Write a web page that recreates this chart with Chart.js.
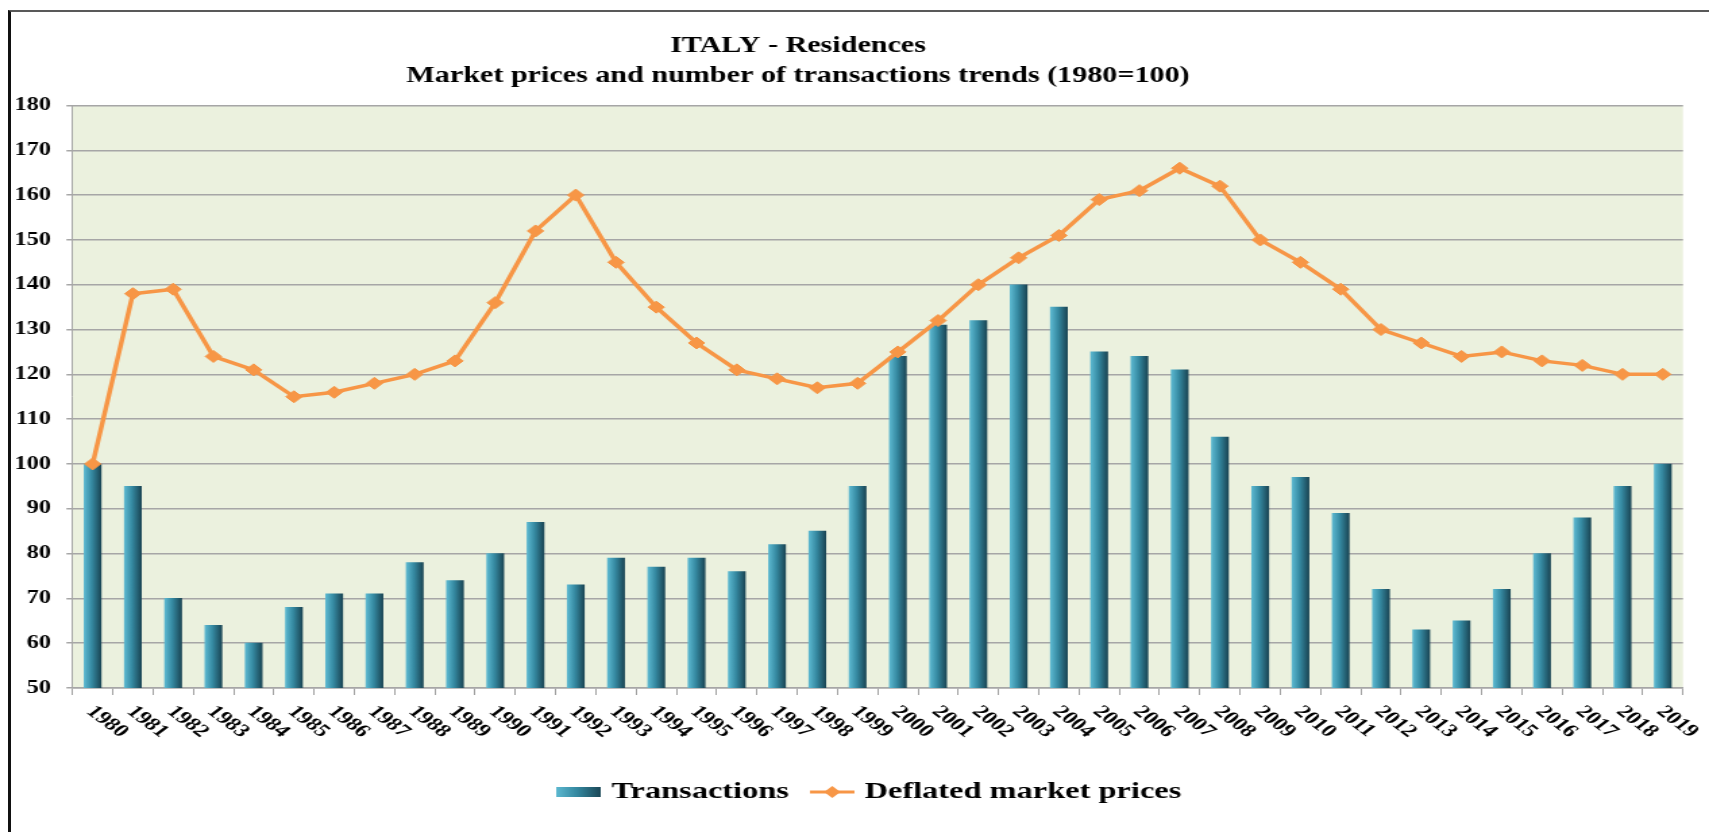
<!DOCTYPE html>
<html>
<head>
<meta charset="utf-8">
<title>ITALY - Residences</title>
<script src="https://cdn.jsdelivr.net/npm/chart.js@4.4.1/dist/chart.umd.min.js"></script>
<style>
  html, body { margin: 0; padding: 0; background: #fff; overflow: hidden; }
  #frame { position: absolute; left: 8px; top: 10px; width: 1720px; height: 900px;
           border-left: 3px solid #111; border-top: 2px solid #595959; pointer-events: none; }
  /* the original picture is stretched sideways, so the canvas is drawn narrow and widened */
  #wrap { position: absolute; left: 0; top: 0; width: 1266px; height: 832px;
          transform: scaleX(1.34992); transform-origin: 0 0; }
</style>
</head>
<body>
<div id="wrap"><canvas id="chart" width="1266" height="832"></canvas></div>
<div id="frame"></div>
<script>
const years = ['1980','1981','1982','1983','1984','1985','1986','1987','1988','1989',
               '1990','1991','1992','1993','1994','1995','1996','1997','1998','1999',
               '2000','2001','2002','2003','2004','2005','2006','2007','2008','2009',
               '2010','2011','2012','2013','2014','2015','2016','2017','2018','2019'];
const transactions = [100, 95, 70, 64, 60, 68, 71, 71, 78, 74,
                      80, 87, 73, 79, 77, 79, 76, 82, 85, 95,
                      124, 131, 132, 140, 135, 125, 124, 121, 106, 95,
                      97, 89, 72, 63, 65, 72, 80, 88, 95, 100];
const marketPrices = [100, 138, 139, 124, 121, 115, 116, 118, 120, 123,
                      136, 152, 160, 145, 135, 127, 121, 119, 117, 118,
                      125, 132, 140, 146, 151, 159, 161, 166, 162, 150,
                      145, 139, 130, 127, 124, 125, 123, 122, 120, 120];
const yTicks = [50, 60, 70, 80, 90, 100, 110, 120, 130, 140, 150, 160, 170, 180];
const titleLines = ['ITALY - Residences', 'Market prices and number of transactions trends (1980=100)'];
const seriesNames = ['Transactions', 'Deflated market prices'];

const STRETCH = 1709 / 1266;
const SERIF = '"Liberation Serif", "Times New Roman", serif';
const ORANGE = '#f79646';
const BAR_W = 12.5;
const TITLE_CX = 798 / STRETCH;
const LEGEND_CX = 872 / STRETCH;

Chart.defaults.font.family = SERIF;
Chart.defaults.font.weight = 'bold';
Chart.defaults.color = '#000';

function barGradient(c, x0, x1) {
    const g = c.createLinearGradient(x0, 0, x1, 0);
    g.addColorStop(0, '#5cb8d0');
    g.addColorStop(0.45, '#3589a1');
    g.addColorStop(1, '#1a4655');
    return g;
}

// legend swatches
const barSwatch = document.createElement('canvas');
barSwatch.width = 33; barSwatch.height = 10;
(() => {
    const c = barSwatch.getContext('2d');
    c.fillStyle = barGradient(c, 0, 33);
    c.fillRect(0, 0, 33, 10);
})();
const lineSwatch = document.createElement('canvas');
lineSwatch.width = 33; lineSwatch.height = 14;
(() => {
    const c = lineSwatch.getContext('2d');
    c.strokeStyle = ORANGE; c.lineWidth = 3;
    c.beginPath(); c.moveTo(0, 7); c.lineTo(33, 7); c.stroke();
    c.fillStyle = ORANGE;
    c.beginPath(); c.moveTo(16.5 - 6, 7); c.lineTo(16.5, 1); c.lineTo(16.5 + 6, 7); c.lineTo(16.5, 13); c.closePath(); c.fill();
})();

const plotBackground = {
    id: 'plotBackground',
    beforeDraw(chart) {
        const { ctx, chartArea: a } = chart;
        ctx.save();
        ctx.fillStyle = '#ebf1de';
        ctx.fillRect(a.left, a.top, a.right - a.left, a.bottom - a.top);
        ctx.restore();
    }
};

// title sits left of centre and the legend right of it in the original
const shiftBoxes = {
    id: 'shiftBoxes',
    afterLayout(chart) {
        const t = chart.titleBlock;
        if (t) { const d = TITLE_CX - (t.left + t.right) / 2; t.left += d; t.right += d; }
        const l = chart.legend;
        if (l) { const d = LEGEND_CX - (l.left + l.right) / 2; l.left += d; l.right += d; }
    }
};

// year labels run down to the right, which the axis itself cannot do
const slantedYears = {
    id: 'slantedYears',
    afterDraw(chart) {
        const { ctx } = chart;
        const xs = chart.scales.x;
        ctx.save();
        ctx.font = `bold 18px ${SERIF}`;
        ctx.fillStyle = '#000';
        ctx.textAlign = 'left';
        ctx.textBaseline = 'middle';
        years.forEach((y, i) => {
            ctx.save();
            ctx.translate(xs.getPixelForTick(i) - 2, xs.top + 21);
            ctx.rotate(Math.PI / 4);
            ctx.fillText(y, 0, 0);
            ctx.restore();
        });
        ctx.restore();
    }
};

new Chart(document.getElementById('chart'), {
    data: {
        labels: years,
        datasets: [{
            type: 'line',
            label: seriesNames[1],
            data: marketPrices,
            order: 0,
            borderColor: ORANGE,
            borderWidth: 3.5,
            pointStyle: 'rectRot',
            pointRadius: 6,
            pointBorderWidth: 1,
            pointBackgroundColor: ORANGE,
            pointBorderColor: ORANGE,
            tension: 0
        }, {
            type: 'bar',
            label: seriesNames[0],
            data: transactions,
            order: 1,
            barThickness: BAR_W,
            backgroundColor: (context) => {
                const xs = context.chart.scales.x;
                if (!xs || context.dataIndex === undefined) return '#3589a1';
                const cx = xs.getPixelForValue(context.dataIndex);
                if (!isFinite(cx)) return '#3589a1';
                return barGradient(context.chart.ctx, cx - BAR_W / 2, cx + BAR_W / 2);
            }
        }]
    },
    options: {
        responsive: false,
        devicePixelRatio: 1,
        animation: false,
        layout: { padding: { left: 0, right: 19.3, top: 0, bottom: 18 } },
        plugins: {
            title: {
                display: true,
                text: titleLines,
                font: { size: 22.3, weight: 'bold', lineHeight: 30 / 22.3 },
                color: '#000',
                padding: { top: 31, bottom: 14.5 }
            },
            legend: {
                position: 'bottom',
                labels: {
                    usePointStyle: true,
                    pointStyleWidth: 24,
                    padding: 20,
                    font: { size: 24, weight: 'bold' },
                    color: '#000',
                    generateLabels: () => [
                        { text: seriesNames[0], pointStyle: barSwatch, datasetIndex: 1, lineWidth: 0, fontColor: '#000' },
                        { text: seriesNames[1], pointStyle: lineSwatch, datasetIndex: 0, lineWidth: 0, fontColor: '#000' }
                    ]
                }
            },
            tooltip: { enabled: false }
        },
        scales: {
            x: {
                offset: true,
                ticks: { display: false },
                grid: { offset: true, drawOnChartArea: false, drawTicks: true, tickLength: 7, color: '#a0a0a0', lineWidth: 1 },
                border: { color: '#a6a6a6', width: 1.5 },
                afterFit: (s) => { s.height = 72; }
            },
            y: {
                min: 50,
                max: 180,
                afterBuildTicks: (axis) => { axis.ticks = yTicks.map(v => ({ value: v })); },
                ticks: { padding: 11.5, font: { size: 18, weight: 'bold' }, color: '#000' },
                grid: { color: '#a6a6a6', lineWidth: 1.5, tickLength: 4.5 },
                border: { color: '#a6a6a6', width: 1 },
                afterFit: (s) => { s.width = 53.7; }
            }
        }
    },
    plugins: [plotBackground, shiftBoxes, slantedYears]
});
</script>
</body>
</html>
